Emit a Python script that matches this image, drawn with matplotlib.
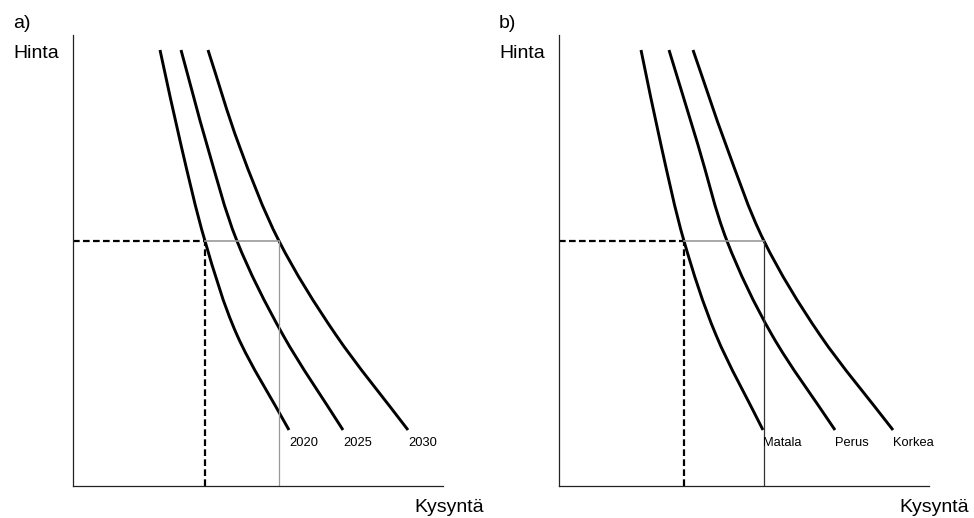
import matplotlib
matplotlib.use("Agg")
import matplotlib.pyplot as plt
from matplotlib.path import Path
from matplotlib.patches import PathPatch
import numpy as np

plt.rcParams['font.family'] = ['Liberation Sans', 'DejaVu Sans']

# Demand curves (quantity at each price level) for each panel
price_pts = [436, 341, 245, 151, 56]

a_labels = ["2020", "2025", "2030"]
a_q_2020 = [87, 108, 132, 164, 216]
a_q_2025 = [108, 134, 164, 210, 270]
a_q_2030 = [135, 166, 206, 263, 335]

b_labels = ["Matala", "Perus", "Korkea"]
b_q_matala = [82, 102, 125, 157, 204]
b_q_perus = [110, 139, 168, 213, 276]
b_q_korkea = [134, 167, 205, 261, 334]

# Reference price level and the quantities it meets on the outer curves
ref_price = 245
a_ref_q = (132, 206)
b_ref_q = (125, 205)


def smooth_curve(ax, q, p):
    pts = np.column_stack([q, p]).astype(float)
    ext = np.vstack([2 * pts[0] - pts[1], pts, 2 * pts[-1] - pts[-2]])
    verts = [tuple(pts[0])]
    codes = [Path.MOVETO]
    for i in range(1, len(ext) - 2):
        p0, p1, p2, p3 = ext[i - 1], ext[i], ext[i + 1], ext[i + 2]
        c1 = p1 + (p2 - p0) / 6.0
        c2 = p2 - (p3 - p1) / 6.0
        verts += [tuple(c1), tuple(c2), tuple(p2)]
        codes += [Path.CURVE4] * 3
    ax.add_patch(PathPatch(Path(verts, codes), fill=False, lw=2.1,
                           edgecolor='black', capstyle='butt'))


def panel(ax, curves, labels, ref_q, vline_color):
    for q in curves:
        smooth_curve(ax, q, price_pts)
    for q, lab in zip(curves, labels):
        ax.text(q[-1], price_pts[-1] - 13, lab, fontsize=9.3, ha='left',
                va='center')
    q1, q3 = ref_q
    ax.plot([0, q1], [ref_price, ref_price], color='black', lw=1.6,
            ls=(0, (3, 1.5)))
    ax.plot([q1, q1], [0, ref_price], color='black', lw=1.6,
            ls=(0, (3, 1.5)))
    ax.plot([q1, q3], [ref_price, ref_price], color='#999999', lw=1.2)
    ax.plot([q3, q3], [0, ref_price], color=vline_color, lw=0.9)
    ax.set_xlim(0, 370)
    ax.set_ylim(0, 451)
    for s in ('top', 'right'):
        ax.spines[s].set_visible(False)
    for s in ('left', 'bottom'):
        ax.spines[s].set_color('#222222')
        ax.spines[s].set_linewidth(0.9)
    ax.set_xticks([])
    ax.set_yticks([])


W, H = 974, 518
fig = plt.figure(figsize=(W / 100, H / 100), dpi=100)

ax_a = fig.add_axes([73 / W, (H - 486) / H, 370 / W, 451 / H])
ax_b = fig.add_axes([559 / W, (H - 486) / H, 370 / W, 451 / H])

panel(ax_a, [a_q_2020, a_q_2025, a_q_2030], a_labels, a_ref_q, '#999999')
panel(ax_b, [b_q_matala, b_q_perus, b_q_korkea], b_labels, b_ref_q, '#333333')

fs = 14
fig.text(13 / W, 1 - 23 / H, "a)", fontsize=fs, va='center')
fig.text(13 / W, 1 - 53 / H, "Hinta", fontsize=fs, va='center')
fig.text(484 / W, 1 - 507 / H, "Kysyntä", fontsize=fs, va='center', ha='right')
fig.text(499 / W, 1 - 23 / H, "b)", fontsize=fs, va='center')
fig.text(499 / W, 1 - 53 / H, "Hinta", fontsize=fs, va='center')
fig.text(969 / W, 1 - 507 / H, "Kysyntä", fontsize=fs, va='center', ha='right')

fig.savefig("out.png", dpi=100)
